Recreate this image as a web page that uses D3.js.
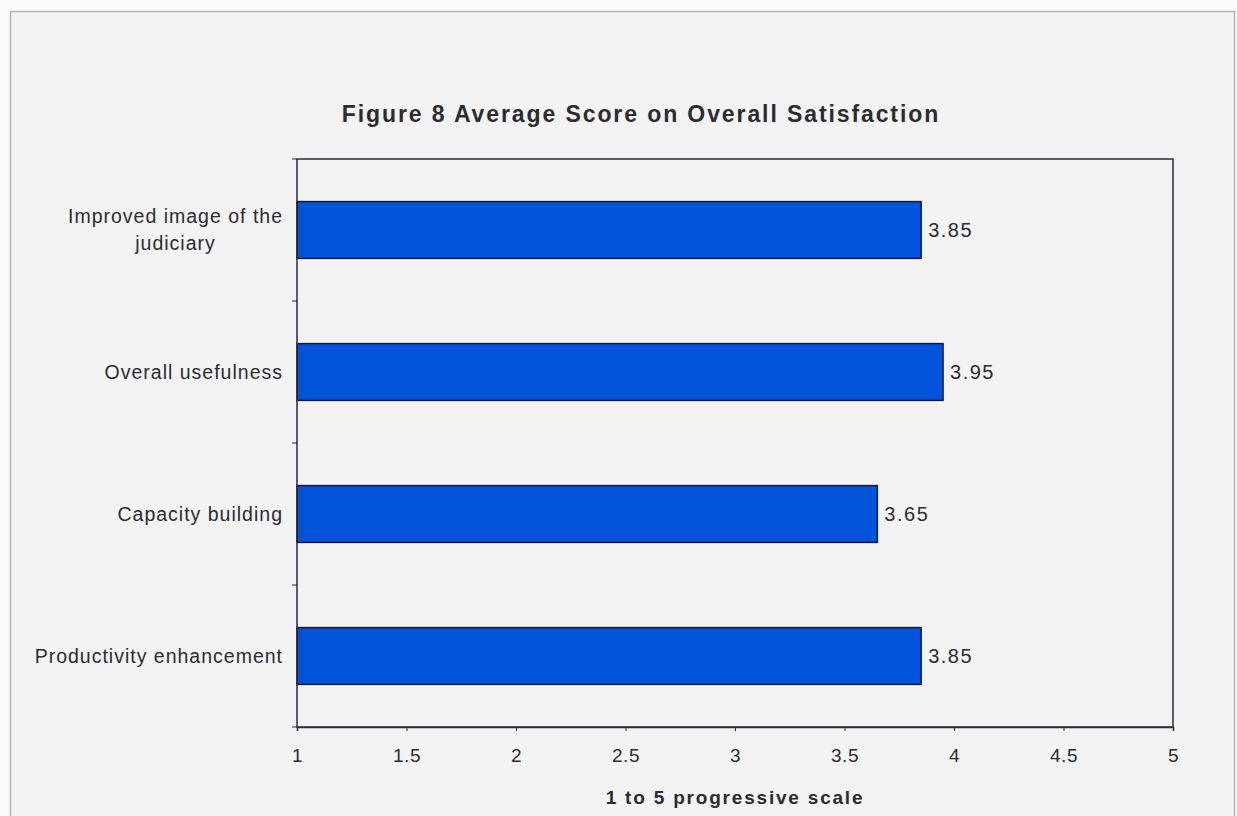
<!DOCTYPE html>
<html>
<head>
<meta charset="utf-8">
<script src="https://cdn.jsdelivr.net/npm/d3@7/dist/d3.min.js"></script>
<style>
  html, body { margin: 0; padding: 0; background: #fbfbfb; }
  svg { display: block; }
  text { font-family: "Liberation Sans", Arial, sans-serif; fill: #2b2b33; }
</style>
</head>
<body>
<svg id="chart" width="1237" height="816"></svg>
<script>
// Average score per satisfaction item on a 1–5 scale
const categories = [
  ["Improved image of the", "judiciary"],
  ["Overall usefulness"],
  ["Capacity building"],
  ["Productivity enhancement"]
];
const scores = [3.85, 3.95, 3.65, 3.85];
const xTicks = [1, 1.5, 2, 2.5, 3, 3.5, 4, 4.5, 5];
const titleText = "Figure 8 Average Score on Overall Satisfaction";
const xAxisTitle = "1 to 5 progressive scale";

const svg = d3.select("#chart");

// chart frame
svg.append("rect")
  .attr("x", 10.5).attr("y", 11.5)
  .attr("width", 1224).attr("height", 820)
  .attr("fill", "#f3f3f3")
  .attr("stroke", "#b4b4b8").attr("stroke-width", 1.5);

const plot = { left: 297, top: 159, right: 1173, bottom: 727 };

const x = d3.scaleLinear().domain([1, 5]).range([plot.left, plot.right]);
const y = d3.scaleBand()
  .domain(d3.range(categories.length))
  .range([plot.top, plot.bottom])
  .paddingInner(0.6).paddingOuter(0.3);

// title
svg.append("text")
  .attr("x", 641)
  .attr("y", 122)
  .attr("text-anchor", "middle")
  .style("font-size", "23px").style("font-weight", "bold")
  .style("letter-spacing", "1.9px")
  .text(titleText);

// bars
svg.append("g").selectAll("rect")
  .data(scores)
  .join("rect")
  .attr("x", x(1))
  .attr("y", (d, i) => y(i))
  .attr("width", d => x(d) - x(1))
  .attr("height", y.bandwidth())
  .attr("fill", "#0153da")
  .attr("stroke", "#15183a")
  .attr("stroke-width", 1.5);

// value labels
svg.append("g").selectAll("text")
  .data(scores)
  .join("text")
  .attr("x", d => x(d) + 7)
  .attr("y", (d, i) => y(i) + y.bandwidth() / 2)
  .attr("dy", "0.35em")
  .style("font-size", "20px")
  .style("letter-spacing", "1.5px")
  .text(d => d.toFixed(2));

// plot frame
svg.append("rect")
  .attr("x", plot.left).attr("y", plot.top)
  .attr("width", plot.right - plot.left).attr("height", plot.bottom - plot.top)
  .attr("fill", "none")
  .attr("stroke", "#2a2d40").attr("stroke-width", 1.5);

// x axis
const xAxis = svg.append("g")
  .attr("transform", `translate(0,${plot.bottom})`)
  .call(d3.axisBottom(x).tickValues(xTicks).tickSize(4).tickPadding(18)
    .tickFormat(d3.format("")));
xAxis.select(".domain").attr("stroke", "#2a2d40").attr("stroke-width", 1.5);
xAxis.selectAll(".tick line").attr("stroke", "#2a2d40");
xAxis.selectAll(".tick text")
  .style("font-size", "19px").style("letter-spacing", "0.6px")
  .style("font-family", "Liberation Sans, Arial, sans-serif")
  .attr("fill", "#2b2b33");

// y axis: ticks at category boundaries
const step = (plot.bottom - plot.top) / categories.length;
const boundaries = d3.range(categories.length + 1).map(i => plot.top + i * step);
svg.append("g").selectAll("line")
  .data(boundaries)
  .join("line")
  .attr("x1", plot.left - 5).attr("x2", plot.left)
  .attr("y1", d => d).attr("y2", d => d)
  .attr("stroke", "#2a2d40");

// category labels, wrapped lines centred on the longest one
const labelRight = 283;
const lineH = 27;
categories.forEach((lines, i) => {
  const cy = y(i) + y.bandwidth() / 2;
  const t = svg.append("text")
    .style("font-size", "19.5px")
    .style("letter-spacing", "1px");
  lines.forEach((ln, j) => {
    t.append("tspan")
      .attr("y", cy + (j - (lines.length - 1) / 2) * lineH)
      .attr("dy", "0.35em")
      .text(ln);
  });
  let maxW = 0;
  t.selectAll("tspan").each(function () {
    maxW = Math.max(maxW, this.getComputedTextLength());
  });
  t.attr("text-anchor", "middle");
  t.selectAll("tspan").attr("x", labelRight - maxW / 2);
});

// x axis title
svg.append("text")
  .attr("x", (plot.left + plot.right) / 2)
  .attr("y", 804)
  .attr("text-anchor", "middle")
  .style("font-size", "19px").style("font-weight", "bold")
  .style("letter-spacing", "1.8px")
  .text(xAxisTitle);
</script>
</body>
</html>
